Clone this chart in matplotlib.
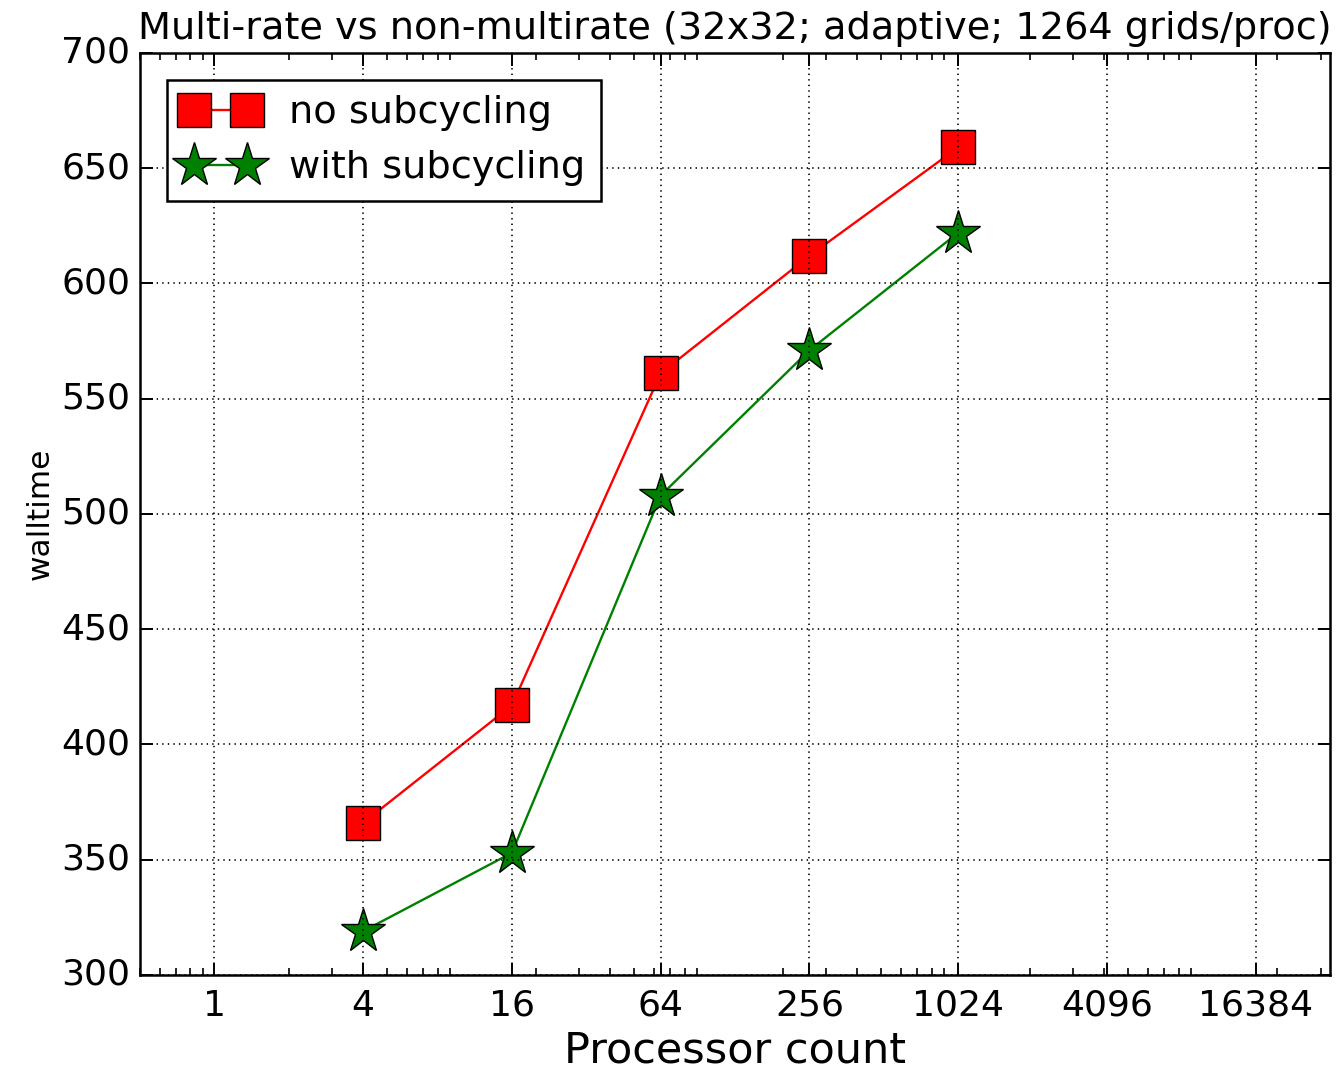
import matplotlib
matplotlib.use("Agg")
import matplotlib.pyplot as plt
from matplotlib.ticker import FixedLocator, FixedFormatter, LogLocator, NullFormatter

plt.style.use('classic')

procs = [4, 16, 64, 256, 1024]
no_subcycling = [366, 417, 561, 612, 659]
with_subcycling = [319, 353, 508, 571, 622]
xtick_vals = [1, 4, 16, 64, 256, 1024, 4096, 16384]
xtick_labels = ['1', '4', '16', '64', '256', '1024', '4096', '16384']

fig = plt.figure(figsize=(13.39, 10.72), dpi=100)
ax = fig.add_axes([0.1046, 0.0905, 0.8887, 0.8601])

ax.plot(procs, no_subcycling, color='red', marker='s', markersize=25,
        markerfacecolor='red', markeredgecolor='black', markeredgewidth=1.0,
        linewidth=1.7, label='no subcycling')
ax.plot(procs, with_subcycling, color='green', marker='*', markersize=33,
        markerfacecolor='green', markeredgecolor='black', markeredgewidth=1.0,
        linewidth=1.7, label='with subcycling')

ax.set_xscale('log')
ax.set_xlim(0.5, 32768)
ax.set_ylim(300, 700)
ax.xaxis.set_major_locator(FixedLocator(xtick_vals))
ax.xaxis.set_major_formatter(FixedFormatter(xtick_labels))
ax.xaxis.set_minor_locator(LogLocator(base=10, subs=[2, 3, 4, 5, 6, 7, 8, 9], numticks=50))
ax.xaxis.set_minor_formatter(NullFormatter())

ax.grid(True, which='major', linestyle=':', color='black', linewidth=1.2)
ax.tick_params(axis='both', which='major', labelsize=26, length=9, width=1.4, direction='in')
ax.tick_params(axis='x', which='major', pad=10)
ax.tick_params(axis='y', which='major', pad=7)
ax.tick_params(axis='both', which='minor', length=5, width=1.2, direction='in')
for sp in ax.spines.values():
    sp.set_linewidth(1.8)

ax.set_xlabel('Processor count', fontsize=31)
ax.set_ylabel('walltime', fontsize=22.5)
ax.set_title('Multi-rate vs non-multirate (32x32; adaptive; 1264 grids/proc)', fontsize=27.5, pad=10)

leg = ax.legend(loc='upper left', numpoints=2, fontsize=27.5, borderaxespad=0.7)
leg.get_frame().set_linewidth(1.8)

fig.savefig('out.png', dpi=100)
